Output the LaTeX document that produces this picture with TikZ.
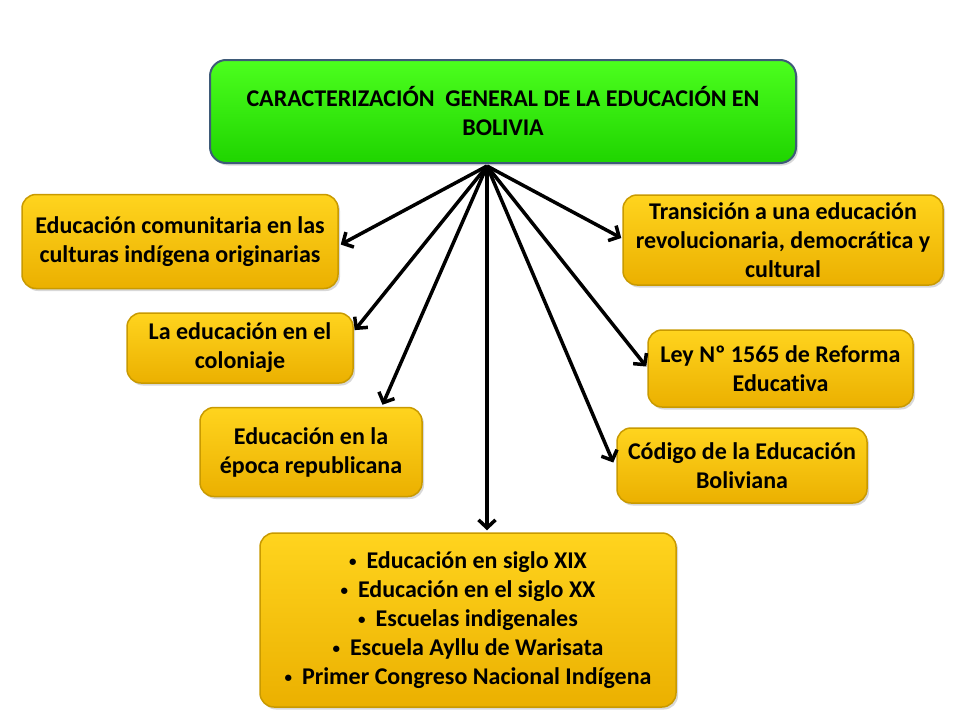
\documentclass[tikz,border=0pt]{standalone}
\usepackage{fontspec}
\setmainfont{Carlito}[Ligatures=NoCommon]
\usetikzlibrary{arrows.meta,calc,shadows}
\definecolor{goldlight}{HTML}{FFD41E}
\definecolor{golddark}{HTML}{EBB000}
\definecolor{goldedge}{HTML}{C99A00}
\definecolor{greenlight}{HTML}{4CFF1E}
\definecolor{greendark}{HTML}{1FD400}
\definecolor{greenedge}{HTML}{3E5A78}
\newcommand{\blt}{\raisebox{1.5pt}{\fontsize{15}{15}\selectfont\textbullet}\hspace{10pt}}
\begin{document}
\begin{tikzpicture}[x=1pt,y=-1pt,
  txt/.style={font=\fontsize{24}{29}\selectfont\bfseries, align=center, text=black},
  ybox/.style={txt, rectangle, rounded corners=14pt, top color=goldlight, bottom color=golddark, draw=goldedge, line width=1.5pt,
    drop shadow={shadow xshift=2pt, shadow yshift=-2.5pt, opacity=0.3}},
  gbox/.style={txt, rectangle, rounded corners=16pt, top color=greenlight, bottom color=greendark, draw=greenedge, line width=2pt,
    drop shadow={shadow xshift=2pt, shadow yshift=-2.5pt, opacity=0.3}},
  conn/.style={line width=3.5pt, -{Straight Barb[length=8pt, width=17pt, line width=3.5pt]}}
]
\path[use as bounding box, fill=white] (0,0) rectangle (960,720);

\node[gbox, minimum width=586pt, minimum height=103pt] (top) at (503,111.5)
  {CARACTERIZACIÓN\ \ GENERAL DE LA EDUCACIÓN EN\\BOLIVIA};

\node[ybox, minimum width=316pt, minimum height=94pt] (l1) at (180,241.5)
  {Educación comunitaria en las\\culturas indígena originarias};
\node[ybox, minimum width=226pt, minimum height=70pt] (l2) at (240,348)
  {La educación en el\\coloniaje};
\node[ybox, minimum width=222pt, minimum height=89pt] (l3) at (311,452)
  {Educación en la\\época republicana};
\node[ybox, minimum width=416pt, minimum height=174pt] (bot) at (468,620)
  {\blt Educación en siglo XIX\\
   \blt Educación en el siglo XX\\
   \blt Escuelas indigenales\\
   \blt Escuela Ayllu de Warisata\\
   \blt Primer Congreso Nacional Indígena};
\node[ybox, minimum width=320pt, minimum height=90pt] (r1) at (783,240)
  {Transición a una educación\\revolucionaria, democrática y\\cultural};
\node[ybox, minimum width=265pt, minimum height=77pt] (r2) at (780.5,368.5)
  {Ley Nº 1565 de Reforma\\Educativa};
\node[ybox, minimum width=250pt, minimum height=75pt] (r3) at (742,465.5)
  {Código de la Educación\\Boliviana};

\coordinate (hub) at ($(top.south)+(-16,2)$);
\draw[conn] (hub) -- ($(l1.east)+(2,3)$);
\draw[conn] (hub) -- ($(l2.north east)!0.25!(l2.south east)+(1,0)$);
\draw[conn] (hub) -- ($(l3.north west)!0.82!(l3.north east)+(0,-2)$);
\draw[conn] (hub) -- ($(hub |- bot.north)+(0,-2)$);
\draw[conn] (hub) -- ($(r1.west)+(-1,-2)$);
\draw[conn] (hub) -- ($(r2.west)+(-1,-2)$);
\draw[conn] (hub) -- ($(r3.west)+(-3,-3)$);
\end{tikzpicture}
\end{document}
